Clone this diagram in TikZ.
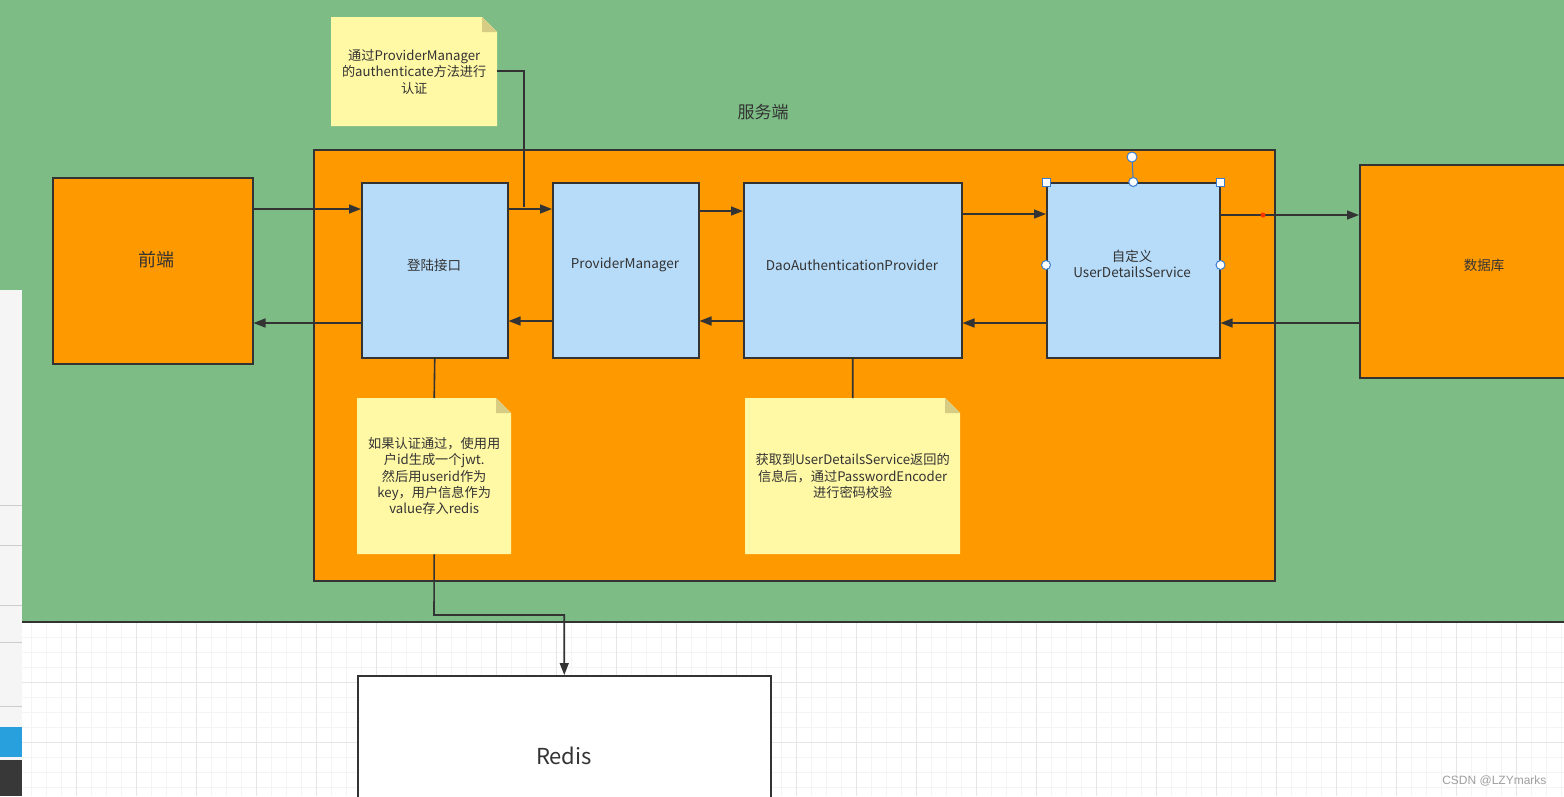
\documentclass[tikz,border=0pt]{standalone}
\usepackage{fontspec}
\setmainfont{Noto Sans CJK SC}
\newfontfamily\wmfont{Liberation Sans}
\usetikzlibrary{arrows.meta}
\definecolor{bggreen}{RGB}{125,189,133}
\definecolor{orng}{RGB}{255,153,0}
\definecolor{lblue}{RGB}{183,220,250}
\definecolor{noteyel}{RGB}{255,248,165}
\definecolor{notefold}{RGB}{214,204,132}
\definecolor{edgec}{RGB}{51,51,51}
\definecolor{txtc}{RGB}{51,51,51}
\definecolor{gridmin}{RGB}{244,244,244}
\definecolor{gridmaj}{RGB}{230,230,230}
\definecolor{selblue}{RGB}{58,125,204}
\definecolor{uiblue}{RGB}{41,160,222}
\tikzset{
  orbox/.style={draw=edgec, line width=1.5pt, fill=orng, anchor=north west, inner sep=0pt, text=txtc},
  bluebox/.style={draw=edgec, line width=1.5pt, fill=lblue, anchor=north west, inner sep=0pt},
  lbl/.style={text=txtc, align=center, inner sep=0pt, font=\fontsize{13.5}{16}\selectfont},
  notebox/.style={draw=none, anchor=north west, inner sep=0pt, text=txtc, align=center, font=\fontsize{13.2}{16.3}\selectfont},
  conn/.style={draw=edgec, line width=1.6pt, -{Triangle[length=12pt,width=9pt]}},
  plain/.style={draw=edgec, line width=1.6pt},
  handlesq/.style={draw=selblue, fill=white, line width=1pt, minimum size=8pt, inner sep=0pt},
  handlecirc/.style={draw=selblue, fill=white, line width=1pt, circle, minimum size=10pt, inner sep=0pt}
}
\begin{document}
\begin{tikzpicture}[x=1pt,y=-1pt]
\useasboundingbox (0,0) rectangle (1564,796);
\clip (0,0) rectangle (1564,796);
% white grid area
\fill[white] (0,0) rectangle (1564,796);
\foreach \gx in {31,46,...,1564} \draw[gridmin, line width=1pt] (\gx,622) -- (\gx,796);
\foreach \gy in {637,652,...,796} \draw[gridmin, line width=1pt] (22,\gy) -- (1564,\gy);
\foreach \gx in {76,136,...,1564} \draw[gridmaj, line width=1pt] (\gx,622) -- (\gx,796);
\foreach \gy in {682,742} \draw[gridmaj, line width=1pt] (22,\gy) -- (1564,\gy);
% green background
\fill[bggreen] (0,0) rectangle (1564,622);
\draw[edgec, line width=1.5pt] (22,622) -- (1564,622);
% left UI strip
\fill[gray!8] (0,290) rectangle (22,796);
\draw[gray!40, line width=0.8pt] (0,505) -- (22,505);
\draw[gray!40, line width=0.8pt] (0,545) -- (22,545);
\draw[gray!40, line width=0.8pt] (0,605) -- (22,605);
\draw[gray!40, line width=0.8pt] (0,642) -- (22,642);
\draw[gray!40, line width=0.8pt] (0,706) -- (22,706);
\fill[uiblue] (0,727) rectangle (22,757);
\fill[black!78] (0,760) rectangle (22,796);

% title
\node[text=txtc, font=\fontsize{17}{20}\selectfont] (title) at (763,112) {服务端};

% container
\node[orbox, minimum width=961pt, minimum height=431pt] (server) at (313,149) {};

% main boxes
\node[orbox, minimum width=200pt, minimum height=186pt] (fe) at (52,177) {};
\node[orbox, minimum width=230pt, minimum height=213pt] (db) at (1359,164) {};
\node[bluebox, minimum width=146pt, minimum height=175pt] (login) at (361,182) {};
\node[bluebox, minimum width=146pt, minimum height=175pt] (pm) at (552,182) {};
\node[bluebox, minimum width=218pt, minimum height=175pt] (dao) at (743,182) {};
\node[bluebox, minimum width=173pt, minimum height=175pt] (uds) at (1046,182) {};
\node[draw=edgec, line width=1.5pt, fill=white, anchor=north west, minimum width=413pt, minimum height=160pt, inner sep=0pt] (redis) at (357,675) {};

% labels
\node[lbl, font=\fontsize{18}{20}\selectfont] (felbl) at (156,260) {前端};
\node[lbl] (dblbl) at (1484,265) {数据库};
\node[lbl] (loginlbl) at (434,265) {登陆接口};
\node[lbl] (pmlbl) at (625,265) {ProviderManager};
\node[lbl] (daolbl) at (852,265) {DaoAuthenticationProvider};
\node[lbl] (udslbl) at (1132,264) {自定义\\UserDetailsService};
\node[lbl, font=\fontsize{22}{26}\selectfont] (redislbl) at (564,756) {Redis};

% notes: bodies
\fill[noteyel] (331,17) -- (482,17) -- (497,32) -- (497,126) -- (331,126) -- cycle;
\fill[notefold] (482,17) -- (482,32) -- (497,32) -- cycle;
\fill[noteyel] (357,398) -- (496,398) -- (511,413) -- (511,554) -- (357,554) -- cycle;
\fill[notefold] (496,398) -- (496,413) -- (511,413) -- cycle;
\fill[noteyel] (745,398) -- (945,398) -- (960,413) -- (960,554) -- (745,554) -- cycle;
\fill[notefold] (945,398) -- (945,413) -- (960,413) -- cycle;
\node[notebox, minimum width=166pt, minimum height=109pt] (n1) at (331,17) {通过ProviderManager\\的authenticate方法进行\\认证};
\node[notebox, minimum width=154pt, minimum height=156pt] (n2) at (357,398) {如果认证通过，使用用\\户id生成一个jwt.\\然后用userid作为\\key，用户信息作为\\value存入redis};
\node[notebox, minimum width=215pt, minimum height=156pt] (n3) at (745,398) {获取到UserDetailsService返回的\\信息后，通过PasswordEncoder\\进行密码校验};

% connectors
\draw[conn] (fe.east |- 0,209) -- (login.west |- 0,209);
\draw[conn] (login.west |- 0,323) -- (fe.east |- 0,323);
\draw[conn] (login.east |- 0,209) -- (pm.west |- 0,209);
\draw[conn] (pm.west |- 0,321) -- (login.east |- 0,321);
\draw[conn] (pm.east |- 0,211) -- (dao.west |- 0,211);
\draw[conn] (dao.west |- 0,321) -- (pm.east |- 0,321);
\draw[conn] (dao.east |- 0,214) -- (uds.west |- 0,214);
\draw[conn] (uds.west |- 0,323) -- (dao.east |- 0,323);
\draw[conn] (uds.east |- 0,215) -- (db.west |- 0,215);
\draw[conn] (db.west |- 0,323) -- (uds.east |- 0,323);
\coordinate (j1) at (524,207);
\draw[plain] (n1.east |- 0,71) -| (j1);
\draw[plain] (login.south) -- (n2.north);
\draw[plain] (dao.south) -- (n3.north);
\draw[conn] (n2.south) -- (434,615) -| (redis.north);
\fill[red!60!orange] (1263,215) circle (2.5pt);

% selection handles on uds
\draw[selblue, line width=1pt] (uds.north) -- (1132,157);
\node[handlecirc] (rot) at (1132,157) {};
\node[handlesq] (h1) at (uds.north west) {};
\node[handlesq] (h2) at (uds.north east) {};
\node[handlecirc, minimum size=9pt] (h3) at (uds.north) {};
\node[handlecirc, minimum size=9pt] (h4) at (uds.west |- 0,265) {};
\node[handlecirc, minimum size=9pt] (h5) at (uds.east |- 0,265) {};

% watermark
\node[text=gray!75, font=\wmfont\fontsize{12}{14}\selectfont, anchor=east] (wm) at (1550,781) {CSDN @LZYmarks};
\end{tikzpicture}
\end{document}
